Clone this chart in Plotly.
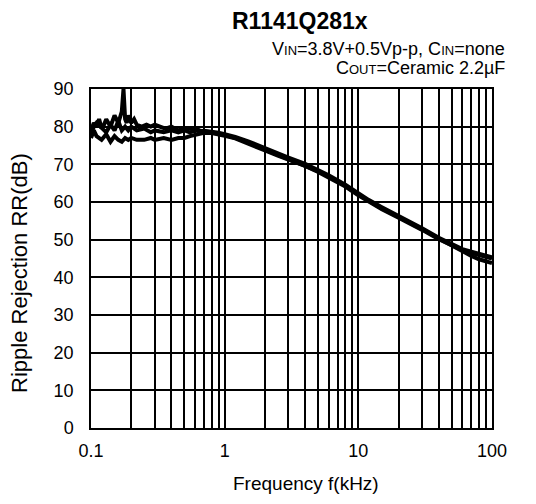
import plotly.graph_objects as go

# ---- data ----
freq_main = [0.7, 0.8, 0.9, 1, 1.2, 1.5, 2, 2.5, 3, 4, 5, 6, 8, 10, 12, 15, 20, 25, 30, 40, 50, 60, 70, 80, 90, 100]

freq_low1 = [0.1, 0.105, 0.11, 0.115, 0.12, 0.125, 0.13, 0.14, 0.15, 0.16, 0.165, 0.17, 0.175, 0.18, 0.185,
             0.19, 0.2, 0.21, 0.22, 0.24, 0.26, 0.28, 0.3, 0.33, 0.36, 0.4, 0.45, 0.5, 0.55, 0.6, 0.65]
rr_low1 = [79, 81, 80, 82, 79.5, 80.5, 82, 80, 83, 81, 82.5, 84, 90, 82, 81,
           83, 81, 82, 80.5, 80, 80.5, 80, 80.5, 80, 79.5, 80, 79, 79.5, 79.5, 79.5, 79]
rr_main1 = [78.7, 78.5, 78.2, 77.8, 77, 75.8, 73.9, 72.5, 71.5, 69.8, 68.2, 66.8, 64.3, 62, 60.2, 58.3, 56,
            54.3, 52.8, 50.3, 48.4, 46.9, 45.7, 44.8, 44.2, 43.8]

freq_low2 = [0.1, 0.105, 0.11, 0.12, 0.13, 0.14, 0.15, 0.16, 0.17, 0.18, 0.19, 0.2, 0.22, 0.25, 0.28,
             0.3, 0.35, 0.4, 0.45, 0.5, 0.55, 0.6, 0.65]
rr_low2 = [78, 80, 81, 79.5, 78.5, 80.5, 79, 81.5, 79, 80, 79, 80, 79, 79.5, 78.5,
           79, 78.5, 79, 78.5, 79, 78.5, 79, 78.8]
rr_main2 = [78.9, 78.7, 78.4, 78.0, 77.3, 76.1, 74.2, 72.8, 71.8, 70.1, 68.5, 67.1, 64.6, 62.3, 60.5, 58.6, 56.3,
            54.6, 53.0, 50.5, 48.8, 47.5, 46.8, 46.2, 45.7, 45.3]

freq_low3 = [0.1, 0.105, 0.11, 0.12, 0.13, 0.14, 0.15, 0.16, 0.17, 0.18, 0.19, 0.2, 0.22, 0.25, 0.28,
             0.3, 0.35, 0.4, 0.45, 0.5, 0.55, 0.6, 0.65]
rr_low3 = [77, 79, 77.5, 76.5, 78, 76, 77.5, 76.5, 76, 77, 76.5, 77, 76.5, 76.5, 77,
           76.5, 77, 76.5, 77, 77, 77.5, 77.8, 78.2]
rr_main3 = [78.4, 78.3, 78.0, 77.6, 76.9, 75.6, 73.7, 72.3, 71.3, 69.6, 68.0, 66.6, 64.1, 61.8, 60.0, 58.1, 55.8,
            54.1, 52.6, 50.1, 48.5, 47.2, 46.5, 45.9, 45.4, 45.0]

x_ticks = [0.1, 1, 10, 100]
x_tick_labels = ["0.1", "1", "10", "100"]
y_ticks = [0, 10, 20, 30, 40, 50, 60, 70, 80, 90]

FONT = "Liberation Sans, Arial, sans-serif"
SC = "<span style='font-size:13px'>{}</span>"

fig = go.Figure()
for fl, rl, rm in [(freq_low1, rr_low1, rr_main1), (freq_low2, rr_low2, rr_main2), (freq_low3, rr_low3, rr_main3)]:
    fig.add_trace(go.Scatter(x=fl + freq_main, y=rl + rm, mode="lines",
                             line=dict(color="black", width=4), showlegend=False))

fig.update_layout(
    width=536, height=504,
    margin=dict(l=83, r=52, t=81, b=84, pad=0),
    paper_bgcolor="white", plot_bgcolor="white",
    font=dict(family=FONT, color="black", size=18),
)

fig.update_xaxes(
    type="log", range=[-1, 2],
    tickvals=x_ticks, ticktext=x_tick_labels,
    showgrid=True, gridcolor="black", gridwidth=1.5,
    minor=dict(dtick="D1", showgrid=True, gridcolor="black", gridwidth=1.5, ticks=""),
    showline=True, linecolor="black", linewidth=1.5, mirror=True,
    ticks="", tickfont=dict(size=18), ticklabelstandoff=6,
    zeroline=False,
)
fig.update_yaxes(
    range=[0, 90], tickvals=y_ticks,
    showgrid=True, gridcolor="black", gridwidth=1.5,
    showline=True, linecolor="black", linewidth=1.5, mirror=True,
    ticks="", tickfont=dict(size=18), ticklabelstandoff=12,
    zeroline=False,
)

# axis titles
fig.add_annotation(text="Frequency f(kHz)", xref="paper", yref="paper",
                   x=0.535, y=-0.165, xanchor="center", yanchor="middle",
                   showarrow=False, font=dict(size=19, family=FONT))
fig.add_annotation(text="Ripple Rejection RR(dB)", xref="paper", yref="paper",
                   x=-0.177, y=0.4575, xanchor="center", yanchor="middle", textangle=-90,
                   showarrow=False, font=dict(size=22, family=FONT))

# title and conditions
fig.add_annotation(text="<b>R1141Q281x</b>", xref="paper", yref="paper",
                   x=0.5215, y=1.2006, xanchor="center", yanchor="middle",
                   showarrow=False, font=dict(size=23, family=FONT))
fig.add_annotation(
    text="V" + SC.format("IN") + "=3.8V+0.5Vp-p, C" + SC.format("IN") + "=none",
    xref="paper", yref="paper", x=1.037, y=1 + (81 - 41) / 339, xanchor="right", yanchor="middle",
    showarrow=False, font=dict(size=18, family=FONT))
fig.add_annotation(
    text="C" + SC.format("OUT") + "=Ceramic 2.2µF",
    xref="paper", yref="paper", x=1.037, y=1 + (81 - 60) / 339, xanchor="right", yanchor="middle",
    showarrow=False, font=dict(size=18, family=FONT))

fig.write_html("out.html")
